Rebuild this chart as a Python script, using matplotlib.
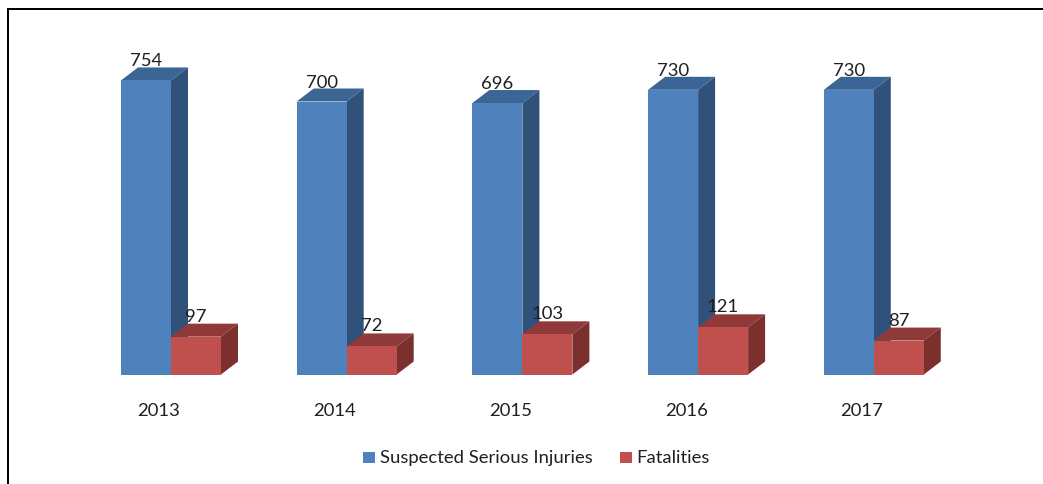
import matplotlib
matplotlib.use("Agg")
import matplotlib.pyplot as plt
from matplotlib.patches import Polygon, Rectangle

years = ["2013", "2014", "2015", "2016", "2017"]
injuries = [754, 700, 696, 730, 730]
fatalities = [97, 72, 103, 121, 87]

W, H = 1043, 485
group_px = 175.7    # pixels between groups
unit_px = 0.39      # pixels per value unit
x0_px, y0_px = 171, 375.5

bar_w = 50 / group_px
dx = 17 / group_px
dy = 13 / unit_px

plt.rcParams['font.family'] = ['Lato', 'DejaVu Sans']
text_col = "#1f1f1f"
fs = 13.3

fig = plt.figure(figsize=(W / 100, H / 100), dpi=100)
ax = fig.add_axes([0, 0, 1, 1])
ax.set_xlim(-x0_px / group_px, (W - x0_px) / group_px)
ax.set_ylim(-(H - y0_px) / unit_px, y0_px / unit_px)
ax.axis("off")


def bar3d(x, v, front, top, side):
    ax.bar(x, v, bar_w, align="edge", color=front, zorder=3)
    ax.add_patch(Polygon([(x, v), (x + dx, v + dy), (x + bar_w + dx, v + dy), (x + bar_w, v)],
                         color=top, lw=0, zorder=2))
    ax.add_patch(Polygon([(x + bar_w, 0), (x + bar_w + dx, dy), (x + bar_w + dx, v + dy), (x + bar_w, v)],
                         color=side, lw=0, zorder=2))


for i, year in enumerate(years):
    bar3d(i - bar_w, injuries[i], "#4f81bd", "#3a6595", "#30527a")
    bar3d(i, fatalities[i], "#c0504d", "#8f3a38", "#7c302e")
    ax.text(i - bar_w + 25 / group_px, injuries[i] + 20 / unit_px, str(injuries[i]), ha="center", va="center",
            fontsize=fs, color=text_col, zorder=5)
    ax.text(i + 25 / group_px, fatalities[i] + 21 / unit_px, str(fatalities[i]), ha="center", va="center",
            fontsize=fs, color=text_col, zorder=5)
    ax.text(i - 12 / group_px, -35.5 / unit_px, year, ha="center", va="center", fontsize=fs, color=text_col)

# legend, placed by hand like the original
ax.add_patch(Rectangle((363 / W, 1 - 464 / H), 12 / W, 11 / H, transform=ax.transAxes, color="#4f81bd", lw=0))
ax.text(379.5 / W, 1 - 458 / H, "Suspected Serious Injuries", transform=ax.transAxes, va="center",
        fontsize=fs, color=text_col)
ax.add_patch(Rectangle((620 / W, 1 - 464 / H), 12 / W, 11 / H, transform=ax.transAxes, color="#c0504d", lw=0))
ax.text(636.5 / W, 1 - 458 / H, "Fatalities", transform=ax.transAxes, va="center", fontsize=fs, color=text_col)

# black frame, only left and top sides are in the crop
ax.plot([8 / W, 8 / W, 1], [0, 1 - 10 / H, 1 - 10 / H], transform=ax.transAxes,
        color="black", lw=1.44, solid_joinstyle="miter")

fig.savefig("out.png", dpi=100)
